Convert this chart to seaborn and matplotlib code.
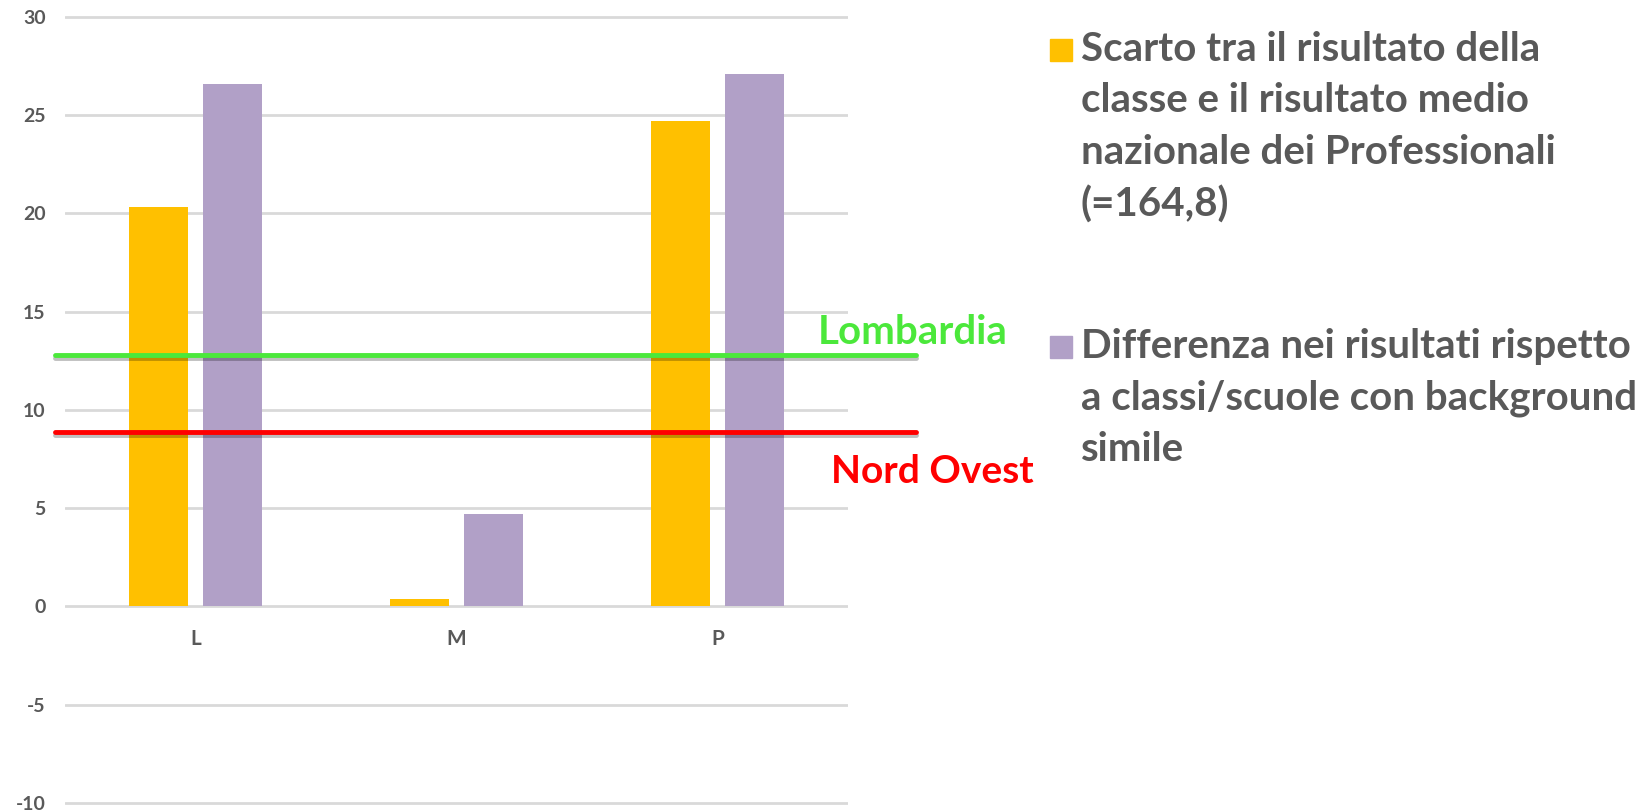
import numpy as np
import pandas as pd
import matplotlib
matplotlib.use("Agg")
import matplotlib.pyplot as plt
import matplotlib.patheffects as pe
from matplotlib.patches import Rectangle
import seaborn as sns

# ---- data ----
categories = ["L", "M", "P"]
scarto = [20.3, 0.4, 24.7]
differenza = [26.6, 4.7, 27.1]
series_labels = [
    "Scarto tra il risultato della\nclasse e il risultato medio\nnazionale dei Professionali\n(=164,8)",
    "Differenza nei risultati rispetto\na classi/scuole con background\nsimile",
]
ref_names = ["Lombardia", "Nord Ovest"]
ref_values = [12.8, 8.9]
yticks = [-10, -5, 0, 5, 10, 15, 20, 25, 30]

colors = ["#FFC000", "#B1A0C7"]
ref_colors = ["#4BE83B", "#FF0000"]
text_gray = "#595959"

df = pd.DataFrame({
    "cat": categories * 2,
    "val": scarto + differenza,
    "serie": [series_labels[0]] * 3 + [series_labels[1]] * 3,
})

sns.set_theme(style="white")
plt.rcParams["font.family"] = ["Lato", "DejaVu Sans"]
plt.rcParams["font.weight"] = "bold"

W, H = 1646, 811
fig = plt.figure(figsize=(W / 100, H / 100), dpi=100)

def fx(px):
    return px / W

def fy(py):
    return 1 - py / H

# axes geometry (pixels)
left_px, right_px = 65, 848
y30_px, ym10_px = 16.8, 803
ppu = (ym10_px - y30_px) / 40
pad_u = 0.3
top_px = y30_px - pad_u * ppu
bot_px = ym10_px + pad_u * ppu
ax = fig.add_axes([fx(left_px), fy(bot_px), fx(right_px - left_px), (bot_px - top_px) / H])

sns.barplot(data=df, x="cat", y="val", hue="serie", palette=colors, saturation=1,
            width=0.57, gap=0.21, linewidth=0, ax=ax, legend=False)

ax.set_ylim(-10 - pad_u, 30 + pad_u)
ax.set_xlim(-0.5, 2.5)
ax.set_yticks(yticks)
ax.set_yticklabels([str(t) for t in yticks], fontweight="bold")
ax.set_xticks(range(len(categories)))
ax.set_xticklabels(categories, fontweight="bold")
ax.yaxis.grid(True, color="#D9D9D9", linewidth=2)
ax.set_axisbelow(True)
for s in ["top", "right", "left"]:
    ax.spines[s].set_visible(False)
ax.spines["bottom"].set_position(("data", 0))
ax.spines["bottom"].set_visible(False)
ax.set_xlabel("")
ax.set_ylabel("")
ax.tick_params(axis="y", length=0, pad=14, labelsize=14, labelcolor=text_gray)
ax.tick_params(axis="x", length=0, pad=16, labelsize=15, labelcolor=text_gray)
for lab in ax.get_yticklabels():
    lab.set_verticalalignment("center_baseline")

# reference lines
shadow = [pe.SimpleLineShadow(offset=(0, -2.5), shadow_color="#000000", alpha=0.25), pe.Normal()]
for v, c in zip(ref_values, ref_colors):
    ax.axhline(v, xmin=-0.013, xmax=1.087, color=c, linewidth=3.5,
               clip_on=False, path_effects=shadow, zorder=5)

ax.annotate(ref_names[0], xy=(1.0, ref_values[0]), xycoords=ax.get_yaxis_transform(),
            xytext=(-22, 3), textcoords="offset points",
            ha="left", va="bottom", color=ref_colors[0], fontsize=29, fontweight="bold")
ax.annotate(ref_names[1], xy=(1.0, ref_values[1]), xycoords=ax.get_yaxis_transform(),
            xytext=(-12, -16), textcoords="offset points",
            ha="left", va="top", color=ref_colors[1], fontsize=28, fontweight="bold")

# legend (manual)
leg_pos = [(1050, 39), (1050, 336)]
for (sx, sy), lab, c in zip(leg_pos, series_labels, colors):
    fig.patches.append(Rectangle((fx(sx), fy(sy + 22)), fx(22), 22 / H,
                                 transform=fig.transFigure, color=c))
    fig.text(fx(sx + 31), fy(sy - 8), lab, ha="left", va="top", color=text_gray,
             fontsize=29, fontweight="bold", linespacing=1.48)

fig.savefig("out.png", dpi=100)
